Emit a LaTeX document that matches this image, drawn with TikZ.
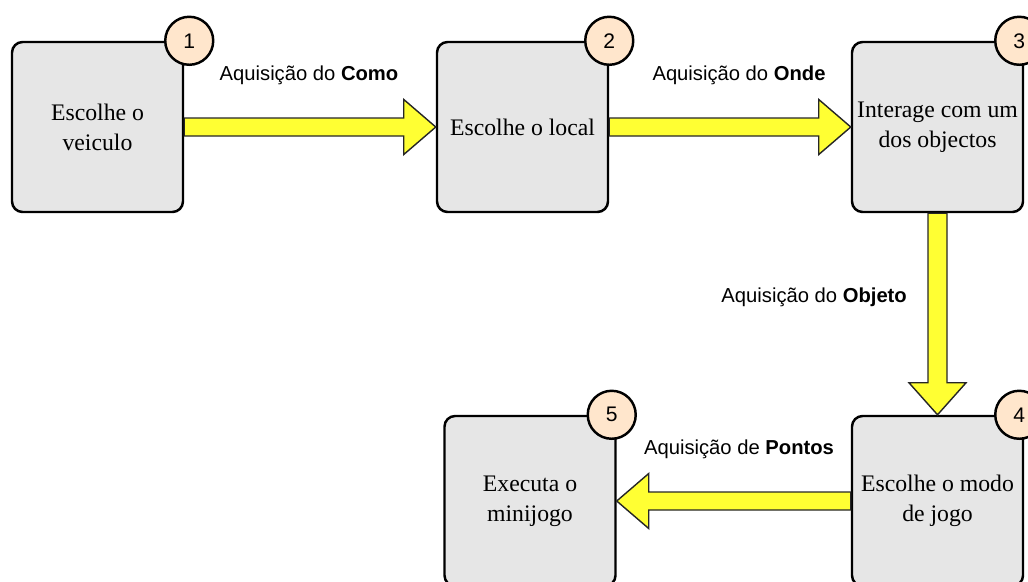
\documentclass[tikz,border=0pt]{standalone}
\usepackage{fontspec}
\setmainfont{Liberation Serif}
\setsansfont{Liberation Sans}

\definecolor{boxgray}{HTML}{E6E6E6}
\definecolor{tagpeach}{HTML}{FFE6CC}
\definecolor{arrowyellow}{HTML}{FFFF33}

\begin{document}
\begin{tikzpicture}[
      stage/.style={draw, line width=1.4pt, fill=boxgray, rounded corners=6pt,
                    minimum width=3.42cm, minimum height=3.4cm, align=center,
                    inner sep=2pt, font=\fontsize{13.5}{17}\selectfont},
      num/.style={circle, draw, line width=1.4pt, fill=tagpeach,
                  minimum size=0.96cm, inner sep=0pt,
                  font=\sffamily\fontsize{12}{14}\selectfont},
      bigarrow/.style={draw=black!85, line width=0.8pt, fill=arrowyellow,
                       line join=miter},
      lbl/.style={font=\sffamily\fontsize{11.5}{14}\selectfont}
    ]
    \useasboundingbox (0,0) rectangle (20.56,-11.62);

    % --- Stages ---------------------------------------------------------------
    \node[stage] (veiculo) at (1.95,-2.54)  {Escolhe o\\veiculo};
    \node[stage] (local)   at (10.45,-2.54) {Escolhe o local};
    \node[stage] (objecto) at (18.75,-2.54) {Interage com um\\dos objectos};
    \node[stage] (modo)    at (18.75,-10.02) {Escolhe o modo\\de jogo};
    \node[stage] (jogo)    at (10.6,-10.02) {Executa o\\minijogo};

    % --- Transitions (block arrows, box edge to box edge) --------------------
    \draw[bigarrow] ([yshift=0.18cm]veiculo.east)
      -- ([xshift=-0.64cm, yshift=0.18cm]local.west)
      -- ([xshift=-0.64cm, yshift=0.55cm]local.west)
      -- (local.west)
      -- ([xshift=-0.64cm, yshift=-0.55cm]local.west)
      -- ([xshift=-0.64cm, yshift=-0.18cm]local.west)
      -- ([yshift=-0.18cm]veiculo.east) -- cycle;
    \draw[bigarrow] ([yshift=0.18cm]local.east)
      -- ([xshift=-0.64cm, yshift=0.18cm]objecto.west)
      -- ([xshift=-0.64cm, yshift=0.55cm]objecto.west)
      -- (objecto.west)
      -- ([xshift=-0.64cm, yshift=-0.55cm]objecto.west)
      -- ([xshift=-0.64cm, yshift=-0.18cm]objecto.west)
      -- ([yshift=-0.18cm]local.east) -- cycle;
    \draw[bigarrow] ([xshift=-0.19cm]objecto.south)
      -- ([xshift=-0.19cm, yshift=0.64cm]modo.north)
      -- ([xshift=-0.57cm, yshift=0.64cm]modo.north)
      -- (modo.north)
      -- ([xshift=0.57cm, yshift=0.64cm]modo.north)
      -- ([xshift=0.19cm, yshift=0.64cm]modo.north)
      -- ([xshift=0.19cm]objecto.south) -- cycle;
    \draw[bigarrow] ([yshift=0.18cm]modo.west)
      -- ([xshift=0.64cm, yshift=0.18cm]jogo.east)
      -- ([xshift=0.64cm, yshift=0.55cm]jogo.east)
      -- (jogo.east)
      -- ([xshift=0.64cm, yshift=-0.55cm]jogo.east)
      -- ([xshift=0.64cm, yshift=-0.18cm]jogo.east)
      -- ([yshift=-0.18cm]modo.west) -- cycle;

    \node[lbl] (como)   at (6.18,-1.5)  {Aquisição do \textbf{Como}};
    \node[lbl] (onde)   at (14.78,-1.5) {Aquisição do \textbf{Onde}};
    \node[lbl, anchor=east] (objeto) at (18.26,-5.94)
      {Aquisição do \textbf{Objeto}};
    \node[lbl] (pontos) at (14.78,-8.98) {Aquisição de \textbf{Pontos}};

    % --- Step numbers ---------------------------------------------------------
    \node[num] (n1) at ([xshift=0.1cm]veiculo.north east) {1};
    \node[num] (n2) at (local.north east)   {2};
    \node[num] (n3) at ([xshift=-0.1cm]objecto.north east) {3};
    \node[num] (n4) at ([xshift=-0.1cm]modo.north east) {4};
    \node[num] (n5) at ([xshift=-0.1cm]jogo.north east) {5};
  \end{tikzpicture}
\end{document}
